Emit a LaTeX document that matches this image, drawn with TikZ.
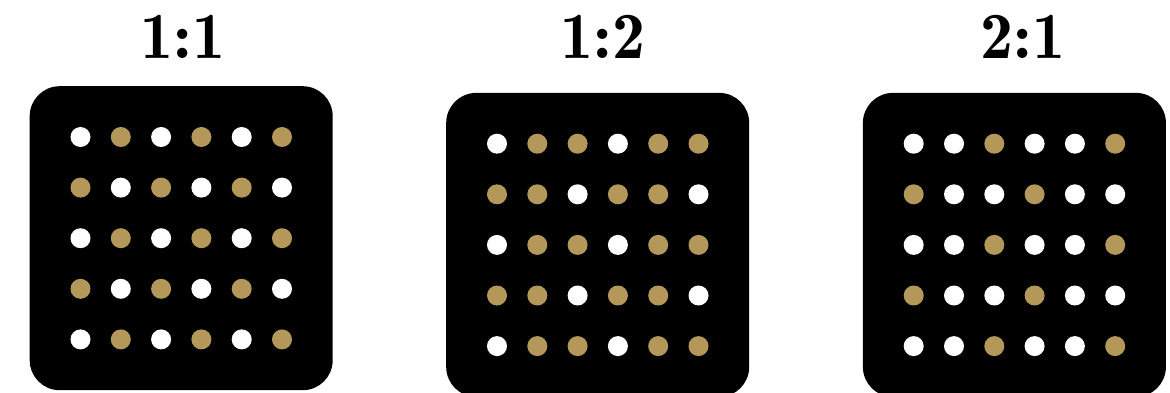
\documentclass[tikz,border=0pt]{standalone}
\definecolor{dotgold}{HTML}{B3985A}
\begin{document}
\begin{tikzpicture}[x=1pt, y=-1pt,
    every node/.style={inner sep=0pt},
    panel/.style={fill=black, rounded corners=30pt, minimum width=303pt, minimum height=304pt, anchor=north west},
    dot/.style={circle, minimum size=20pt},
    ratio/.style={font=\fontsize{66}{70}\fontseries{b}\selectfont, anchor=base}]

    % Parameters
    \def\dx{40.3}
    \def\dy{50.6}
    \def\off{51}

    \useasboundingbox (0,0) rectangle (1170,393);

    % =====================================================
    % Left panel: 1:1
    % =====================================================
    \node[ratio] (titleA) at (183,59) {1:1};
    \begin{scope}[shift={(29.5,86)}]
        \node[panel] (panelA) at (0,0) {};
        \foreach \row [count=\j from 0] in {
            {white,dotgold,white,dotgold,white,dotgold},
            {dotgold,white,dotgold,white,dotgold,white},
            {white,dotgold,white,dotgold,white,dotgold},
            {dotgold,white,dotgold,white,dotgold,white},
            {white,dotgold,white,dotgold,white,dotgold}} {
            \foreach \c [count=\i from 0] in \row {
                \node[dot, fill=\c] (a-\j-\i) at (\off+\i*\dx,\off+\j*\dy) {};
            }
        }
    \end{scope}

    % =====================================================
    % Middle panel: 1:2
    % =====================================================
    \node[ratio] (titleB) at (603,59) {1:2};
    \begin{scope}[shift={(446,92.7)}]
        \node[panel] (panelB) at (0,0) {};
        \foreach \row [count=\j from 0] in {
            {white,dotgold,dotgold,white,dotgold,dotgold},
            {dotgold,dotgold,white,dotgold,dotgold,white},
            {white,dotgold,dotgold,white,dotgold,dotgold},
            {dotgold,dotgold,white,dotgold,dotgold,white},
            {white,dotgold,dotgold,white,dotgold,dotgold}} {
            \foreach \c [count=\i from 0] in \row {
                \node[dot, fill=\c] (b-\j-\i) at (\off+\i*\dx,\off+\j*\dy) {};
            }
        }
    \end{scope}

    % =====================================================
    % Right panel: 2:1
    % =====================================================
    \node[ratio] (titleC) at (1023,59) {2:1};
    \begin{scope}[shift={(862.7,92.7)}]
        \node[panel] (panelC) at (0,0) {};
        \foreach \row [count=\j from 0] in {
            {white,white,dotgold,white,white,dotgold},
            {dotgold,white,white,dotgold,white,white},
            {white,white,dotgold,white,white,dotgold},
            {dotgold,white,white,dotgold,white,white},
            {white,white,dotgold,white,white,dotgold}} {
            \foreach \c [count=\i from 0] in \row {
                \node[dot, fill=\c] (c-\j-\i) at (\off+\i*\dx,\off+\j*\dy) {};
            }
        }
    \end{scope}

\end{tikzpicture}
\end{document}
